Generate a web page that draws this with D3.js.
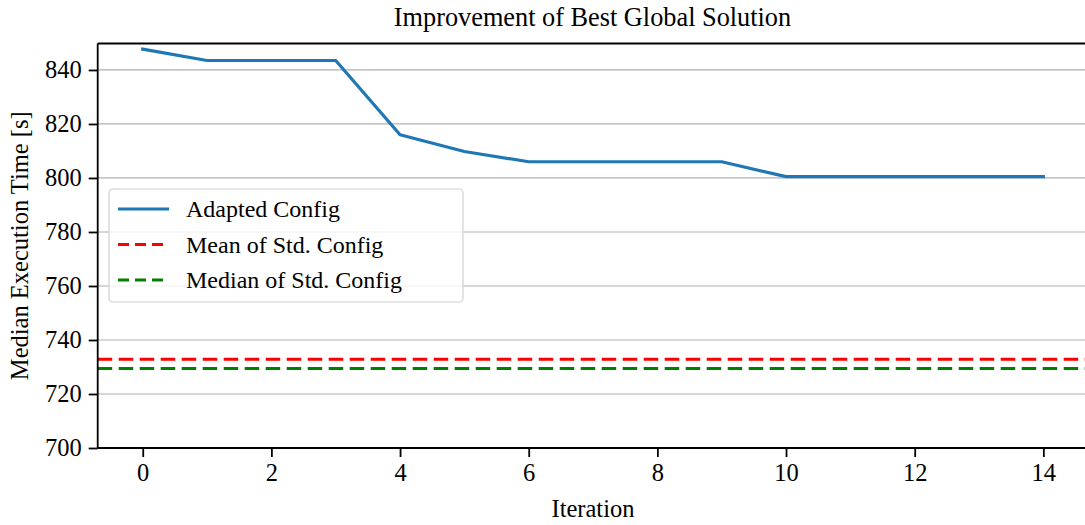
<!DOCTYPE html>
<html>
<head>
<meta charset="utf-8">
<script src="https://cdn.jsdelivr.net/npm/d3@7"></script>
<style>
  html, body { margin: 0; padding: 0; background: #fff; }
  svg { display: block; font-family: "Liberation Serif", "DejaVu Serif", serif; }
</style>
</head>
<body>
<div id="chart"></div>
<script>
// Best global solution per iteration
const iterations = [0, 1, 2, 3, 4, 5, 6, 7, 8, 9, 10, 11, 12, 13, 14];
const adaptedConfig = [847.7, 843.5, 843.5, 843.5, 816.0, 809.8, 806.0, 806.0, 806.0, 806.0, 800.5, 800.5, 800.5, 800.5, 800.5];
// Reference levels of the standard configuration
const meanStdConfig = 732.9;
const medianStdConfig = 729.4;
const xTicks = [0, 2, 4, 6, 8, 10, 12, 14];
const yTicks = [700, 720, 740, 760, 780, 800, 820, 840];

const W = 1085, H = 525;
const margin = { left: 97.7, top: 43.5, bottom: 77 };
const innerH = H - margin.top - margin.bottom;

const svg = d3.select("#chart").append("svg")
  .attr("width", W).attr("height", H);

const x = d3.scaleLinear().domain([-0.7, 14.7])
  .range([margin.left, margin.left + 64.33 * 15.4]);
const y = d3.scaleLinear().domain([700, 849.8])
  .range([margin.top + innerH, margin.top]);

const x0 = x.range()[0], x1 = x.range()[1];
const yBottom = y(700), yTop = y(849.8);

// Horizontal grid
svg.append("g").selectAll("line")
  .data(yTicks.filter(d => d > 700))
  .join("line")
  .attr("x1", x0).attr("x2", x1)
  .attr("y1", d => y(d)).attr("y2", d => y(d))
  .attr("stroke", "#b0b0b0").attr("stroke-width", 1.2);

// Reference lines
const dash = "14.5 6.5";
svg.append("line")
  .attr("x1", x0).attr("x2", x1)
  .attr("y1", y(meanStdConfig)).attr("y2", y(meanStdConfig))
  .attr("stroke", "#ff0000").attr("stroke-width", 3).attr("stroke-dasharray", dash);
svg.append("line")
  .attr("x1", x0).attr("x2", x1)
  .attr("y1", y(medianStdConfig)).attr("y2", y(medianStdConfig))
  .attr("stroke", "#008000").attr("stroke-width", 3).attr("stroke-dasharray", dash);

// Adapted config line
const line = d3.line().x((d, i) => x(iterations[i])).y(d => y(d));
svg.append("path")
  .datum(adaptedConfig)
  .attr("d", line)
  .attr("fill", "none")
  .attr("stroke", "#1f77b4")
  .attr("stroke-width", 3.2)
  .attr("stroke-linejoin", "round")
  .attr("stroke-linecap", "square");

// Axes
const fontSize = 24.5;
const xAxis = svg.append("g")
  .attr("transform", `translate(0,${yBottom})`)
  .call(d3.axisBottom(x).tickValues(xTicks).tickSize(9).tickPadding(7).tickFormat(d3.format("d")));
const yAxis = svg.append("g")
  .attr("transform", `translate(${x0},0)`)
  .call(d3.axisLeft(y).tickValues(yTicks).tickSize(9).tickPadding(7).tickFormat(d3.format("d")));

[xAxis, yAxis].forEach(a => {
  a.select(".domain").remove();
  a.selectAll(".tick line").attr("stroke", "#000").attr("stroke-width", 1.8);
  a.selectAll(".tick text")
    .attr("fill", "#000")
    .style("font-family", '"Liberation Serif", serif')
    .style("font-size", fontSize + "px");
});

// Spines: left, bottom, top
svg.append("line").attr("x1", x0).attr("x2", x0).attr("y1", yTop).attr("y2", yBottom)
  .attr("stroke", "#000").attr("stroke-width", 1.8);
svg.append("line").attr("x1", x0).attr("x2", x1).attr("y1", yBottom).attr("y2", yBottom)
  .attr("stroke", "#000").attr("stroke-width", 1.8);
svg.append("line").attr("x1", x0).attr("x2", x1).attr("y1", yTop).attr("y2", yTop)
  .attr("stroke", "#000").attr("stroke-width", 1.8);

// Title and axis labels
svg.append("text")
  .attr("x", 592.5).attr("y", 26)
  .attr("text-anchor", "middle")
  .style("font-size", "26.3px")
  .text("Improvement of Best Global Solution");
svg.append("text")
  .attr("x", 593).attr("y", 517)
  .attr("text-anchor", "middle")
  .style("font-size", fontSize + "px")
  .text("Iteration");
svg.append("text")
  .attr("transform", `translate(28,${(yTop + yBottom) / 2}) rotate(-90)`)
  .attr("text-anchor", "middle")
  .style("font-size", fontSize + "px")
  .text("Median Execution Time [s]");

// Legend
const legendItems = [
  { label: "Adapted Config", color: "#1f77b4", dash: null },
  { label: "Mean of Std. Config", color: "#ff0000", dash: "11 6" },
  { label: "Median of Std. Config", color: "#008000", dash: "11 6" }
];
const lg = svg.append("g").attr("transform", "translate(109,189)");
lg.append("rect")
  .attr("width", 354).attr("height", 113)
  .attr("rx", 4).attr("ry", 4)
  .attr("fill", "rgba(255,255,255,0.8)")
  .attr("stroke", "#d0d0d0").attr("stroke-width", 1.2);
const rows = lg.selectAll("g.row").data(legendItems).join("g")
  .attr("class", "row")
  .attr("transform", (d, i) => `translate(0,${20 + i * 35.5})`);
rows.append("line")
  .attr("x1", 9).attr("x2", 60)
  .attr("stroke", d => d.color).attr("stroke-width", 3)
  .attr("stroke-dasharray", d => d.dash);
rows.append("text")
  .attr("x", 77).attr("y", 8)
  .style("font-size", "24px")
  .text(d => d.label);
</script>
</body>
</html>
